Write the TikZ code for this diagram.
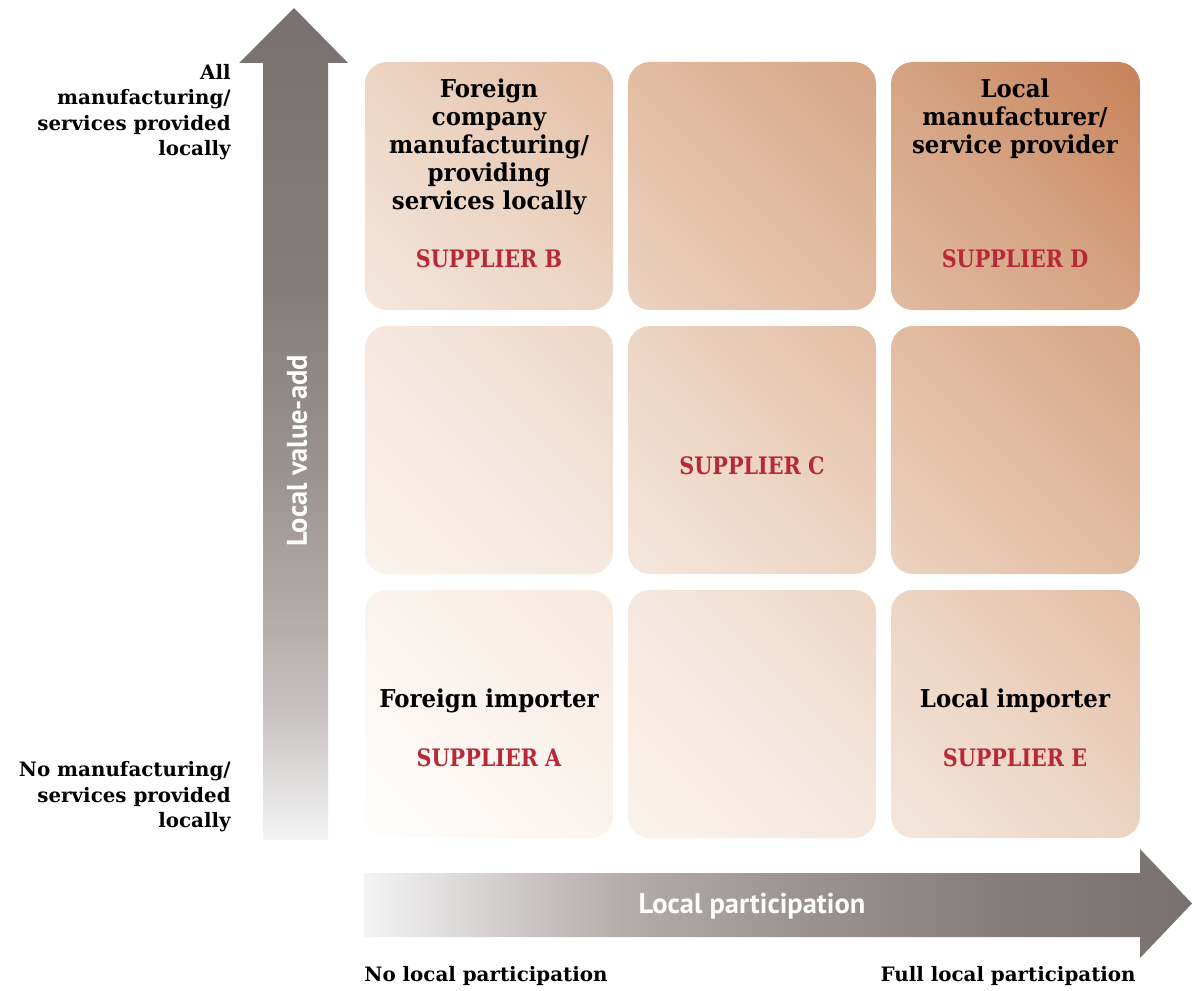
\documentclass[tikz,border=0pt]{standalone}
\usepackage{fontspec}
\setmainfont{DejaVu Serif}
\setsansfont{PT Sans}
\newfontfamily\lblfont{DejaVu Serif}[FakeStretch=0.93]
\newfontfamily\suppfont{DejaVu Serif}[FakeStretch=0.86]
\definecolor{supred}{RGB}{184,40,55}
\definecolor{c0}{HTML}{FFFEFD}
\definecolor{c1}{HTML}{F5E8DE}
\definecolor{c2}{HTML}{ECD4C3}
\definecolor{c3}{HTML}{E2BCA2}
\definecolor{c4}{HTML}{D6A585}
\definecolor{c5}{HTML}{C7825A}
\definecolor{g0}{HTML}{F4F4F4}
\definecolor{g1}{HTML}{C6C1C0}
\definecolor{g2}{HTML}{B0AAA8}
\definecolor{g3}{HTML}{9A9391}
\definecolor{g4}{HTML}{857D7B}
\definecolor{g5}{HTML}{79716F}
\pgfdeclarehorizontalshading{gridshade}{100bp}{color(0bp)=(c0); color(14.6bp)=(c0); color(38bp)=(c1); color(50bp)=(c2); color(62bp)=(c3); color(73.3bp)=(c4); color(85.4bp)=(c5); color(100bp)=(c5)}
\pgfdeclarehorizontalshading{harrow}{100bp}{color(0bp)=(g0); color(25bp)=(g0); color(36bp)=(g1); color(41.5bp)=(g2); color(51.5bp)=(g3); color(63.5bp)=(g4); color(75bp)=(g5); color(100bp)=(g5)}
\pgfdeclareverticalshading{varrow}{100bp}{color(0bp)=(g0); color(25bp)=(g0); color(33bp)=(g1); color(39bp)=(g2); color(47bp)=(g3); color(58bp)=(g4); color(75bp)=(g5); color(100bp)=(g5)}
\tikzset{
  lbl/.style={inner sep=0pt, align=center, font=\lblfont\fontsize{14}{15.9}\selectfont\bfseries},
  sidelbl/.style={inner sep=0pt, align=right, font=\fontsize{11.3}{14.5}\selectfont\bfseries},
  supp/.style={inner sep=0pt, text=supred, font=\suppfont\fontsize{13.7}{16}\selectfont\bfseries},
  axtext/.style={inner sep=0pt, text=white, font=\sffamily\bfseries\fontsize{16.2}{19}\selectfont},
  foot/.style={inner sep=0pt, font=\fontsize{11.3}{14}\selectfont\bfseries},
  cell/.style={rounded corners=0.44cm}
}
\begin{document}
\begin{tikzpicture}[x=0.02cm,y=-0.02cm]
\useasboundingbox (0,0) rectangle (1192,990);
% grid cells with one diagonal gradient
\begin{scope}
\clip[cell] (365,62) rectangle (613,310) (628,62) rectangle (876,310) (891,62) rectangle (1140,310)
  (365,326) rectangle (613,574) (628,326) rectangle (876,574) (891,326) rectangle (1140,574)
  (365,590) rectangle (613,838) (628,590) rectangle (876,838) (891,590) rectangle (1140,838);
\shade[shading=gridshade, shading angle=45] (365,62) rectangle (1140,838);
\end{scope}
% vertical axis arrow
\shade[shading=varrow] (263,840) -- (263,63) -- (239,63) -- (294,8) -- (348,63) -- (328,63) -- (328,840) -- cycle;
% horizontal axis arrow
\shade[shading=harrow] (364,873) -- (1140,873) -- (1140,849) -- (1192,903.5) -- (1140,958) -- (1140,937) -- (364,937) -- cycle;
% axis texts
\node[axtext, rotate=90] (yax) at (297,451) {Local value-add};
\node[axtext] (xax) at (752,906) {Local participation};
% side labels
\node[sidelbl, anchor=east] (ytop) at (231,112) {All\\manufacturing/\\services provided\\locally};
\node[sidelbl, anchor=east] (ybot) at (231,797) {No manufacturing/\\services provided\\locally};
\node[foot, anchor=west] (xleft) at (364,976) {No local participation};
\node[foot, anchor=east] (xright) at (1136,976) {Full local participation};
% cell texts
\node[lbl] (tb) at (489,147) {Foreign\\company\\manufacturing/\\providing\\services locally};
\node[supp] (sb) at (489,259) {SUPPLIER B};
\node[lbl] (td) at (1015,119) {Local\\manufacturer/\\service provider};
\node[supp] (sd) at (1015,259) {SUPPLIER D};
\node[supp] (sc) at (752,466) {SUPPLIER C};
\node[lbl] (ta) at (489,701) {Foreign importer};
\node[supp] (sa) at (489,758) {SUPPLIER A};
\node[lbl] (te) at (1015,701) {Local importer};
\node[supp] (se) at (1015,758) {SUPPLIER E};
\end{tikzpicture}
\end{document}
